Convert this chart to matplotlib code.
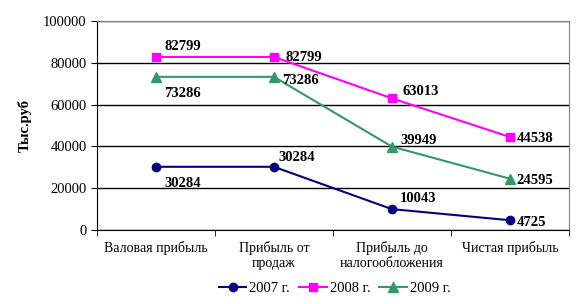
import matplotlib.pyplot as plt
import numpy as np

categories = ['Валовая прибыль', 'Прибыль от\nпродаж', 'Прибыль до\nналогообложения', 'Чистая прибыль']
years = ['2007 г.', '2008 г.', '2009 г.']
v2007 = [30284, 30284, 10043, 4725]
v2008 = [82799, 82799, 63013, 44538]
v2009 = [73286, 73286, 39949, 24595]

plt.rcParams['font.family'] = ['Liberation Serif', 'DejaVu Serif']

fig = plt.figure(figsize=(5.84, 3.04), dpi=100)
ax = fig.add_axes([0.166, 0.243, 0.808, 0.688])

x = np.arange(len(categories))
ax.plot(x, v2007, color='#000080', marker='o', markersize=6, lw=1.5, label=years[0], zorder=3)
ax.plot(x, v2008, color='#FF00FF', marker='s', markersize=6, lw=1.5, label=years[1], zorder=3)
ax.plot(x, v2009, color='#339966', marker='^', markersize=7, lw=1.5, label=years[2], zorder=3)

# label offsets in points (dx, dy)
off2007 = [(6, -17), (3, 2), (6, 3), (5, -6)]
off2008 = [(6, 3), (8, -5), (8, 0), (5, -6)]
off2009 = [(6, -17), (6, -7), (6, 0), (5, -6)]
for vals, offs in [(v2007, off2007), (v2008, off2008), (v2009, off2009)]:
    for xi, v, (dx, dy) in zip(x, vals, offs):
        ax.annotate(str(v), (xi, v), xytext=(dx, dy), textcoords='offset points',
                    fontsize=10.5, fontweight='bold', va='bottom', ha='left')

ax.set_xlim(-0.5, 3.5)
ax.set_ylim(0, 100000)
ax.set_yticks(np.arange(0, 100001, 20000))
ax.yaxis.grid(True, color='black', lw=1)
ax.set_axisbelow(True)
ax.set_xticks(x)
ax.set_xticklabels(categories, fontsize=10)
ax.set_xticks(np.arange(-0.5, 4, 1), minor=True)
ax.tick_params(axis='x', which='major', length=0, pad=8)
ax.tick_params(axis='x', which='minor', length=4, direction='out')
ax.tick_params(axis='y', length=4, labelsize=10.5)
ax.set_ylabel('Тыс.руб', fontsize=10.5, fontweight='bold', labelpad=8)

ax.spines['top'].set_color('gray')
ax.spines['right'].set_color('gray')

fig.legend(loc='lower center', bbox_to_anchor=(0.573, -0.015), ncol=3, frameon=False,
           fontsize=10.5, handlelength=1.9, columnspacing=0.6, handletextpad=0.2)

fig.savefig('out.png', dpi=100)
